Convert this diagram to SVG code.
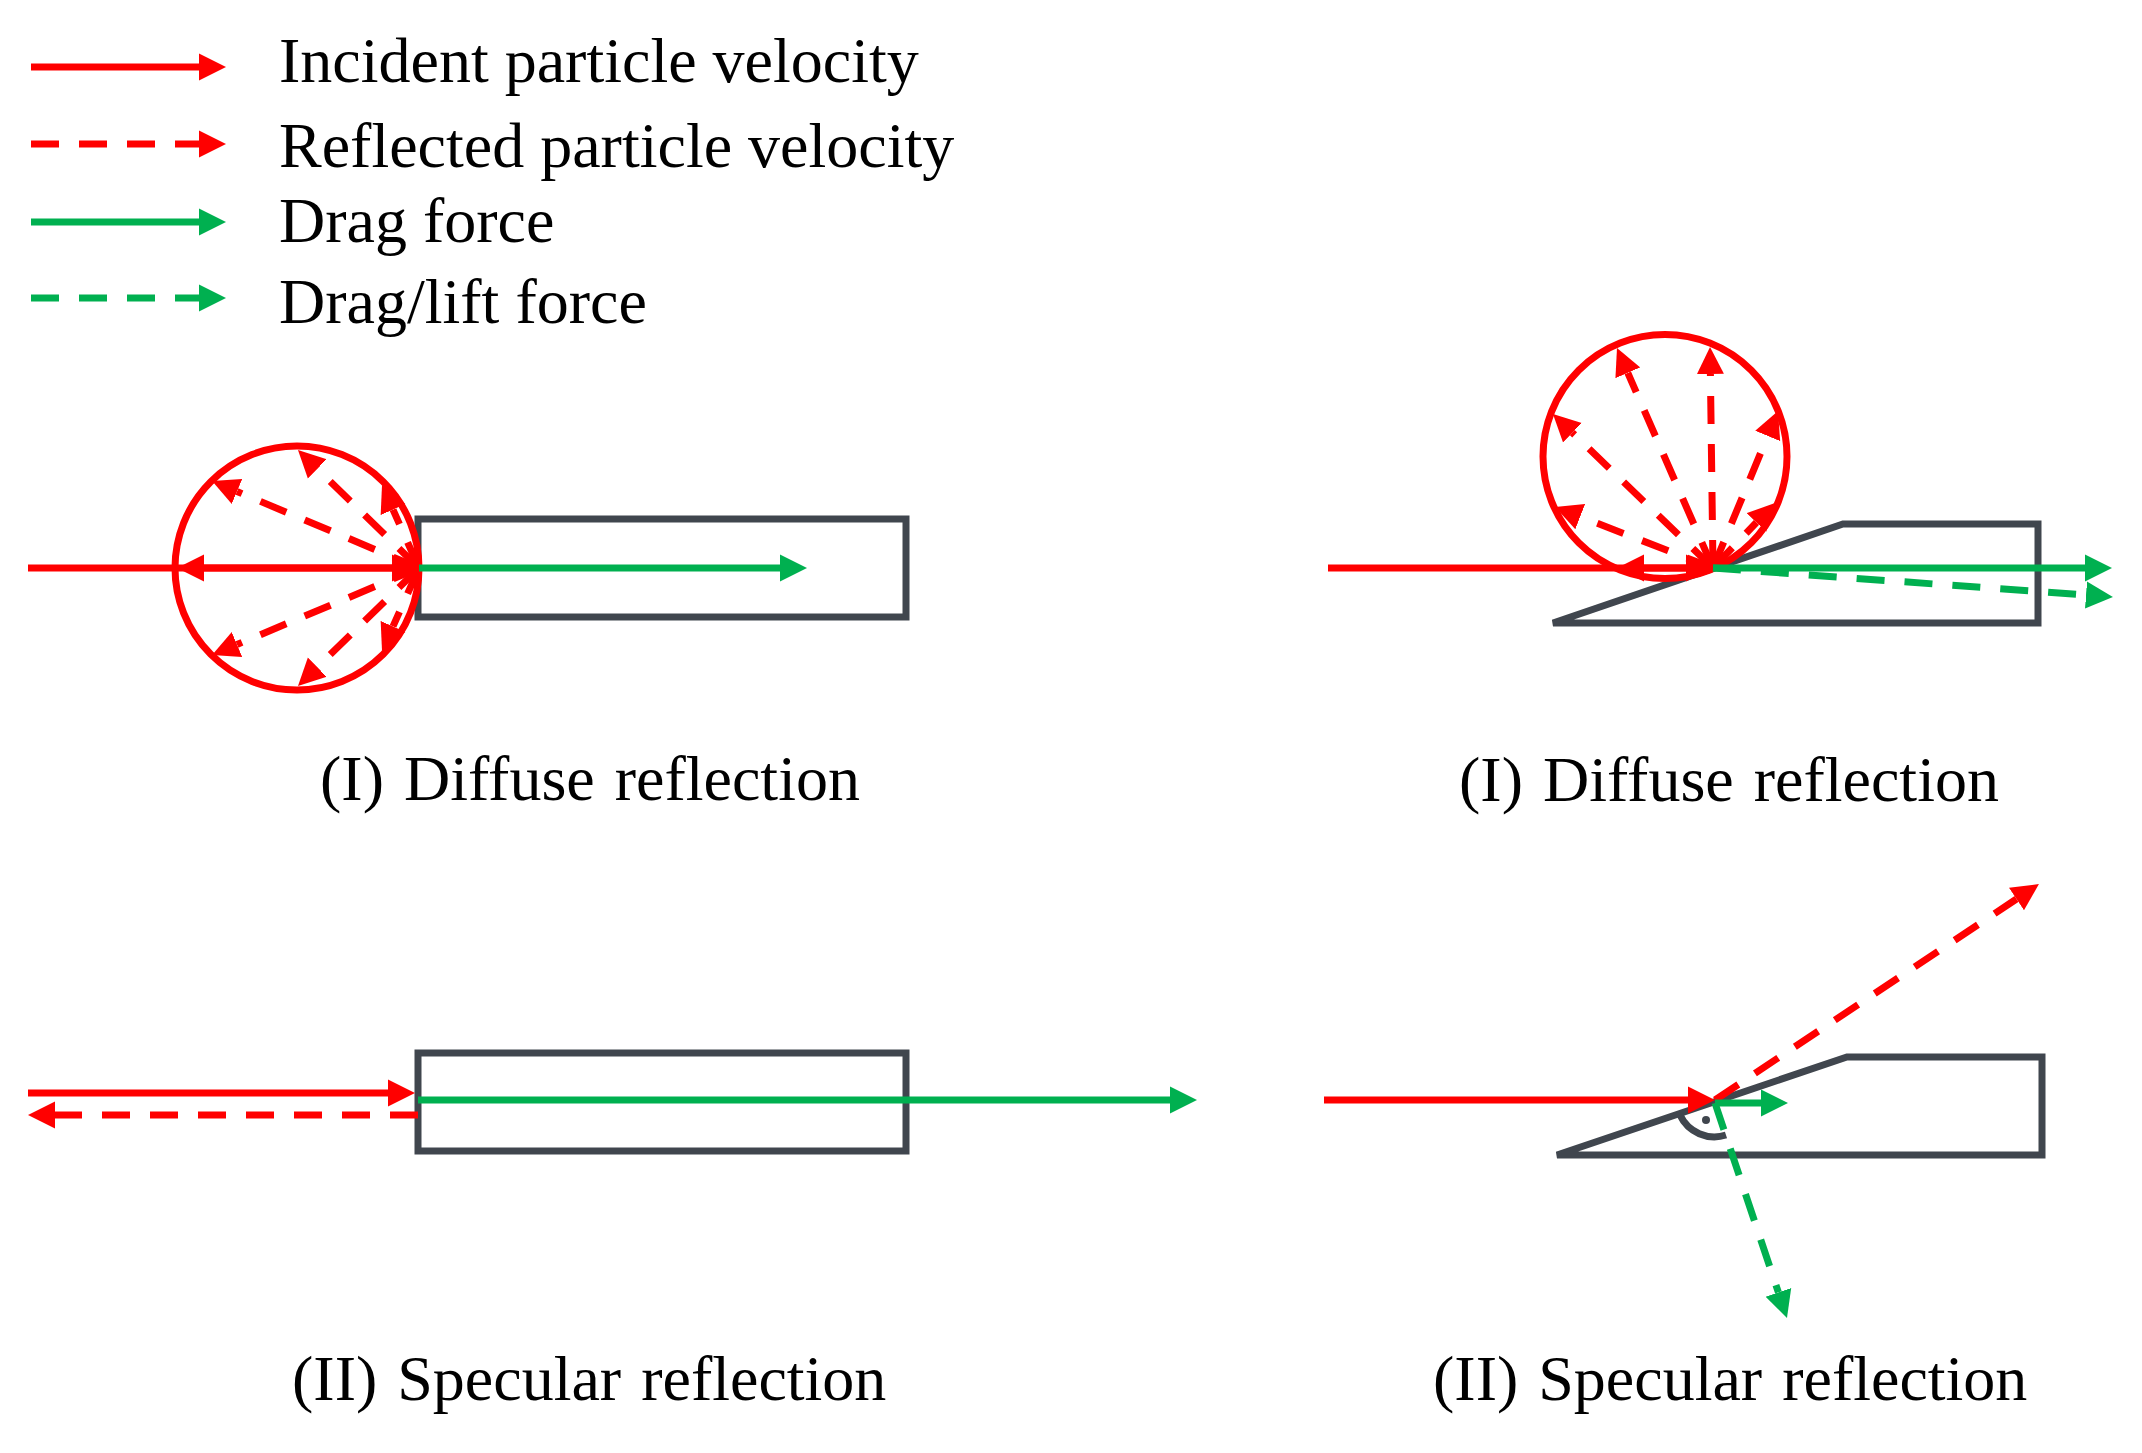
<svg xmlns="http://www.w3.org/2000/svg" width="2142" height="1453" viewBox="0 0 2142 1453">
<style>
text{font-family:"Liberation Serif","Times New Roman",serif;fill:#000}
.l{font-size:64px}
.k{font-size:64px;word-spacing:4px}
.b{fill:none;stroke:#40464e;stroke-width:7}
.c{fill:none;stroke:#f00;stroke-width:7}
.r{stroke:#f00;stroke-width:7;fill:none;marker-end:url(#mr)}
.g{stroke:#00b050;stroke-width:7;fill:none;marker-end:url(#mg)}
.d{stroke-dasharray:28 20}
</style>
<defs>
<marker id="mr" markerUnits="userSpaceOnUse" markerWidth="28" markerHeight="28" refX="0" refY="14" orient="auto"><path d="M0,0.5L27,14L0,27.5Z" fill="#f00"/></marker>
<marker id="mg" markerUnits="userSpaceOnUse" markerWidth="28" markerHeight="28" refX="0" refY="14" orient="auto"><path d="M0,0.5L27,14L0,27.5Z" fill="#00b050"/></marker>
</defs>
<rect width="2142" height="1453" fill="#fff"/>
<g id="legend">
<text class="l" x="279" y="82">Incident particle velocity</text>
<text class="l" x="279" y="167">Reflected particle velocity</text>
<text class="l" x="279" y="242">Drag force</text>
<text class="l" x="279" y="323">Drag/lift force</text>
</g>
<g id="body-flat-diffuse"><rect class="b" x="418" y="519" width="488" height="98"/></g>
<g id="body-wedge-diffuse"><path class="b" d="M1553,623L1843,524H2038V623Z"/></g>
<g id="body-flat-specular"><rect class="b" x="418" y="1053" width="488" height="98"/></g>
<g id="body-wedge-specular"><path class="b" d="M1557,1155L1847,1057H2042V1155Z"/><path class="b" d="M1680,1115A38,38 0 0 0 1726,1135"/><circle cx="1706" cy="1120" r="4" fill="#40464e"/></g>
<g id="sphere-flat"><circle class="c" cx="297" cy="568" r="122"/></g>
<g id="sphere-wedge"><circle class="c" cx="1665" cy="456.5" r="122"/></g>
<g id="connectors">
<line class="r" x1="31" y1="67" x2="199" y2="67"/>
<line class="r d" x1="31" y1="144" x2="199" y2="144"/>
<line class="g" x1="31" y1="222" x2="199" y2="222"/>
<line class="g d" x1="31" y1="298" x2="199" y2="298"/>
<line class="r" x1="28" y1="568" x2="392" y2="568"/>
<line class="r" x1="419" y1="568" x2="204" y2="568"/>
<line class="r d" x1="419" y1="568" x2="237" y2="491.5"/>
<line class="r d" x1="419" y1="568" x2="317.3" y2="468.8"/>
<line class="r d" x1="419" y1="568" x2="393" y2="509.6"/>
<line class="r d" x1="419" y1="568" x2="237" y2="644.5"/>
<line class="r d" x1="419" y1="568" x2="317.3" y2="667.2"/>
<line class="r d" x1="419" y1="568" x2="393" y2="626.4"/>
<line class="g" x1="419" y1="568" x2="780" y2="568"/>
<line class="r" x1="1328" y1="568" x2="1686" y2="568"/>
<line class="r" x1="1713" y1="568" x2="1644" y2="568"/>
<line class="r d" x1="1713" y1="568" x2="1580.2" y2="516.7"/>
<line class="r d" x1="1713" y1="568" x2="1572.4" y2="432.7"/>
<line class="r d" x1="1713" y1="568" x2="1627.8" y2="372.8"/>
<line class="r d" x1="1713" y1="568" x2="1710.4" y2="374"/>
<line class="r d" x1="1713" y1="568" x2="1767.7" y2="436"/>
<line class="r d" x1="1713" y1="568" x2="1756.4" y2="522.5"/>
<line class="g" x1="1713" y1="568" x2="2085" y2="568"/>
<line class="g d" x1="1713" y1="568" x2="2086" y2="595"/>
<line class="r" x1="28" y1="1093" x2="388" y2="1093"/>
<line class="r d" x1="418" y1="1115" x2="55" y2="1115"/>
<line class="g" x1="418" y1="1100" x2="1170" y2="1100"/>
<line class="r" x1="1324" y1="1100" x2="1688" y2="1100"/>
<line class="r d" x1="1715" y1="1100" x2="2016.5" y2="899"/>
<line class="g" x1="1715" y1="1103" x2="1761" y2="1103"/>
<line class="g d" x1="1715" y1="1103" x2="1778.4" y2="1292.4"/>
</g>
<g id="captions">
<text class="k" x="320" y="800">(I) Diffuse reflection</text>
<text class="k" x="1459" y="801">(I) Diffuse reflection</text>
<text class="k" x="292" y="1400">(II) Specular reflection</text>
<text class="k" x="1433" y="1400">(II) Specular reflection</text>
</g>
</svg>
